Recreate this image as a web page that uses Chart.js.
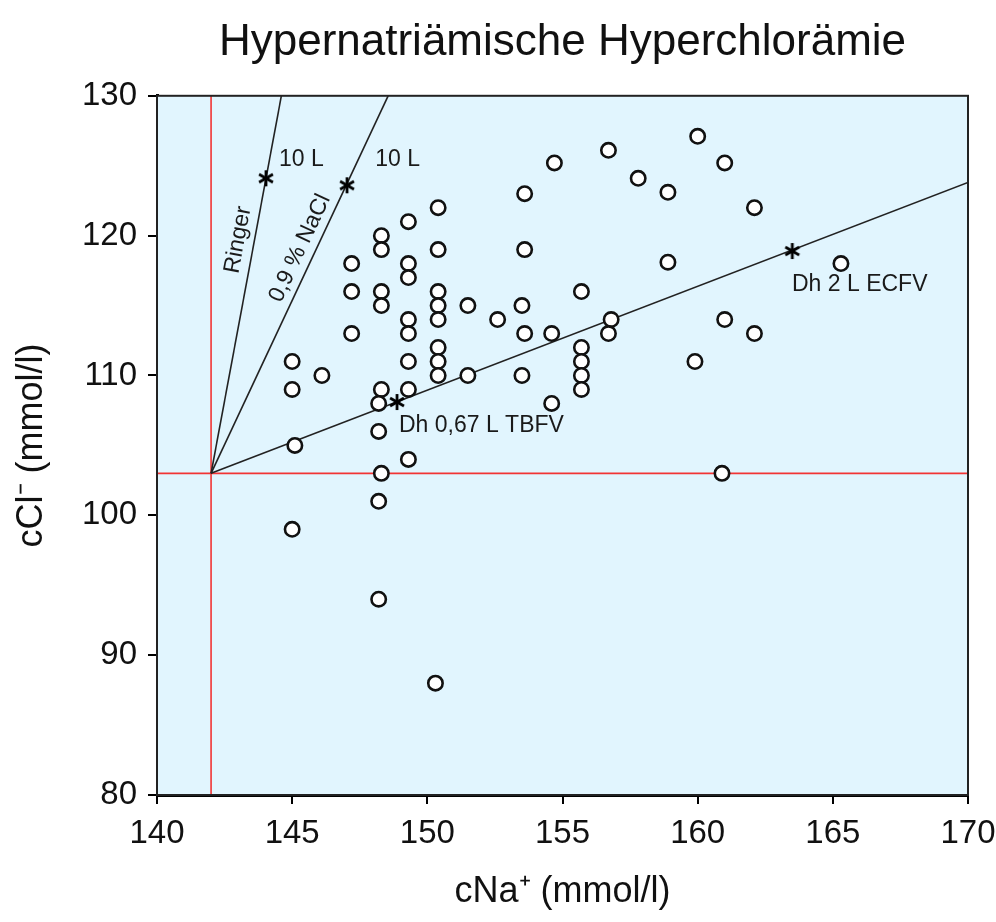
<!DOCTYPE html>
<html>
<head>
<meta charset="utf-8">
<script src="https://cdn.jsdelivr.net/npm/chart.js@4.4.1/dist/chart.umd.min.js"></script>
<style>
    body { margin: 0; background: #fff; }
    canvas { display: block; }
</style>
</head>
<body>
<canvas id="chloride" width="996" height="922"></canvas>
<script>
// patient values
const cNa = [145.0, 145.0, 145.1, 145.0, 146.1, 147.2, 147.2, 147.2, 148.3, 148.3,
             148.3, 148.3, 148.3, 148.2, 148.2, 148.3, 148.2, 148.2, 149.3, 149.3,
             149.3, 149.3, 149.3, 149.3, 149.3, 149.3, 150.4, 150.4, 150.4, 150.4,
             150.4, 150.4, 150.4, 150.4, 150.3, 151.5, 151.5, 152.6, 153.6, 153.6,
             153.5, 153.6, 153.5, 154.7, 154.6, 154.6, 155.7, 155.7, 155.7, 155.7,
             155.7, 156.7, 156.8, 156.7, 157.8, 158.9, 158.9, 160.0, 159.9, 161.0,
             161.0, 160.9, 162.1, 162.1, 165.3];
const cCl = [111, 109, 105, 99, 110, 118, 116, 113, 120, 119,
             116, 115, 109, 108, 106, 103, 101, 94, 121, 118,
             117, 114, 113, 111, 109, 104, 122, 119, 116, 115,
             114, 112, 111, 110, 88, 115, 110, 114, 123, 119,
             115, 113, 110, 125.2, 113, 108, 116, 112, 111, 110,
             109, 126.1, 114, 113, 124.1, 123.1, 118.1, 127.1, 111, 125.2,
             114, 103, 122, 113, 118];

// normal values (red cross)
const normNa = 142;
const normCl = 103;

// mixing lines from the normal point
const ringerLine = [[142, 103], [144.6, 130]];
const naclLine = [[142, 103], [148.55, 130]];
const dhLine = [[142, 103], [170, 123.8]];

// marked points on the lines
const starNa = [144.03, 147.03, 148.88, 163.5];
const starCl = [124.1, 123.6, 108.1, 118.9];

const xTicks = [140, 145, 150, 155, 160, 165, 170];
const yTicks = [80, 90, 100, 110, 120, 130];

const FONT = "'Liberation Sans', Arial, Helvetica, sans-serif";

function toPoints(pairs) {
    return pairs.map(p => ({x: p[0], y: p[1]}));
}

function lineDataset(pairs, color, order) {
    return {
        type: 'line',
        data: toPoints(pairs),
        borderColor: color,
        borderWidth: 1.6,
        pointRadius: 0,
        fill: false,
        order: order
    };
}

// six-armed asterisk like in the original figure
function makeAsterisk() {
    const c = document.createElement('canvas');
    c.width = 20;
    c.height = 20;
    const g = c.getContext('2d');
    g.strokeStyle = '#000';
    g.lineWidth = 2.8;
    g.lineCap = 'butt';
    g.translate(10, 10);
    for (let i = 0; i < 3; i++) {
        g.beginPath();
        g.moveTo(0, -8);
        g.lineTo(0, 8);
        g.stroke();
        g.rotate(Math.PI / 3);
    }
    return c;
}

// plot background + frame
const plotFrame = {
    id: 'plotFrame',
    beforeDatasetsDraw(chart) {
        const a = chart.chartArea;
        const ctx = chart.ctx;
        ctx.save();
        ctx.fillStyle = '#E1F5FE';
        ctx.fillRect(a.left, a.top, a.right - a.left, a.bottom - a.top);
        ctx.restore();
    },
    afterDatasetsDraw(chart) {
        const a = chart.chartArea;
        const ctx = chart.ctx;
        ctx.save();
        ctx.strokeStyle = '#222';
        ctx.lineWidth = 2;
        ctx.strokeRect(a.left, a.top, a.right - a.left, a.bottom - a.top);
        ctx.restore();
    }
};

// text labels placed in data units
const notes = {
    id: 'notes',
    afterDatasetsDraw(chart, args, opts) {
        const xs = chart.scales.x, ys = chart.scales.y;
        const ctx = chart.ctx;
        ctx.save();
        ctx.fillStyle = '#1a1a1a';
        ctx.font = '23px ' + FONT;
        opts.items.forEach(it => {
            const px = xs.getPixelForValue(it.x);
            const py = ys.getPixelForValue(it.y);
            ctx.save();
            ctx.translate(px, py);
            if (it.along) {
                const l = it.along;
                const dx = xs.getPixelForValue(l[1][0]) - xs.getPixelForValue(l[0][0]);
                const dy = ys.getPixelForValue(l[1][1]) - ys.getPixelForValue(l[0][1]);
                ctx.rotate(Math.atan2(dy, dx));
                ctx.textAlign = 'center';
            } else {
                ctx.textAlign = 'left';
            }
            ctx.textBaseline = 'middle';
            ctx.fillText(it.text, 0, 0);
            ctx.restore();
        });
        ctx.restore();
    }
};

const ctx = document.getElementById('chloride').getContext('2d');
new Chart(ctx, {
    type: 'scatter',
    data: {
        datasets: [
            {
                data: starNa.map((v, i) => ({x: v, y: starCl[i]})),
                pointStyle: makeAsterisk(),
                pointRadius: 8,
                order: 0
            },
            {
                data: cNa.map((v, i) => ({x: v, y: cCl[i]})),
                pointStyle: 'circle',
                pointRadius: 7.2,
                backgroundColor: '#fff',
                borderColor: '#111',
                borderWidth: 2.6,
                order: 1
            },
            lineDataset(ringerLine, '#222', 2),
            lineDataset(naclLine, '#222', 2),
            lineDataset(dhLine, '#222', 2),
            lineDataset([[140, normCl], [170, normCl]], '#F23434', 3),
            lineDataset([[normNa, 80], [normNa, 130]], '#F23434', 3)
        ]
    },
    options: {
        responsive: false,
        animation: false,
        layout: { padding: { left: 0, right: 28, top: 0, bottom: 0 } },
        plugins: {
            legend: { display: false },
            tooltip: { enabled: false },
            title: {
                display: true,
                fullSize: false,
                text: 'Hypernatriämische Hyperchlorämie',
                color: '#111',
                font: { family: FONT, size: 44, weight: 'normal', lineHeight: 1.2 },
                padding: { top: 16, bottom: 27 }
            },
            notes: {
                items: [
                    { text: '10 L', x: 144.51, y: 125.4 },
                    { text: '10 L', x: 148.07, y: 125.4 },
                    { text: 'Ringer', x: 143.0, y: 119.7, along: ringerLine },
                    { text: '0,9 % NaCl', x: 145.29, y: 119.1, along: naclLine },
                    { text: 'Dh 0,67 L TBFV', x: 148.95, y: 106.4 },
                    { text: 'Dh 2 L ECFV', x: 163.49, y: 116.5 }
                ]
            }
        },
        scales: {
            x: {
                type: 'linear',
                min: 140,
                max: 170,
                afterBuildTicks: s => { s.ticks = xTicks.map(v => ({value: v})); },
                afterFit: s => { s.height = 127; s.paddingLeft = 0; s.paddingRight = 0; },
                grid: { drawOnChartArea: false, drawTicks: true, tickLength: 9, color: '#000', lineWidth: 2 },
                border: { display: true, color: '#000', width: 3 },
                ticks: { color: '#111', padding: 10, font: { family: FONT, size: 33 } },
                title: {
                    display: true,
                    text: 'cNa⁺ (mmol/l)',
                    color: '#111',
                    font: { family: FONT, size: 36 },
                    padding: { top: 0, bottom: 8 }
                }
            },
            y: {
                type: 'linear',
                min: 80,
                max: 130,
                afterBuildTicks: s => { s.ticks = yTicks.map(v => ({value: v})); },
                afterFit: s => { s.width = 157; },
                grid: { drawOnChartArea: false, drawTicks: true, tickLength: 9, color: '#000', lineWidth: 2 },
                border: { display: true, color: '#000', width: 3 },
                ticks: { color: '#111', padding: 11, font: { family: FONT, size: 33 } },
                title: {
                    display: true,
                    text: 'cCl⁻ (mmol/l)',
                    color: '#111',
                    font: { family: FONT, size: 36 },
                    padding: { top: 10, bottom: 0 }
                }
            }
        }
    },
    plugins: [plotFrame, notes]
});
</script>
</body>
</html>
